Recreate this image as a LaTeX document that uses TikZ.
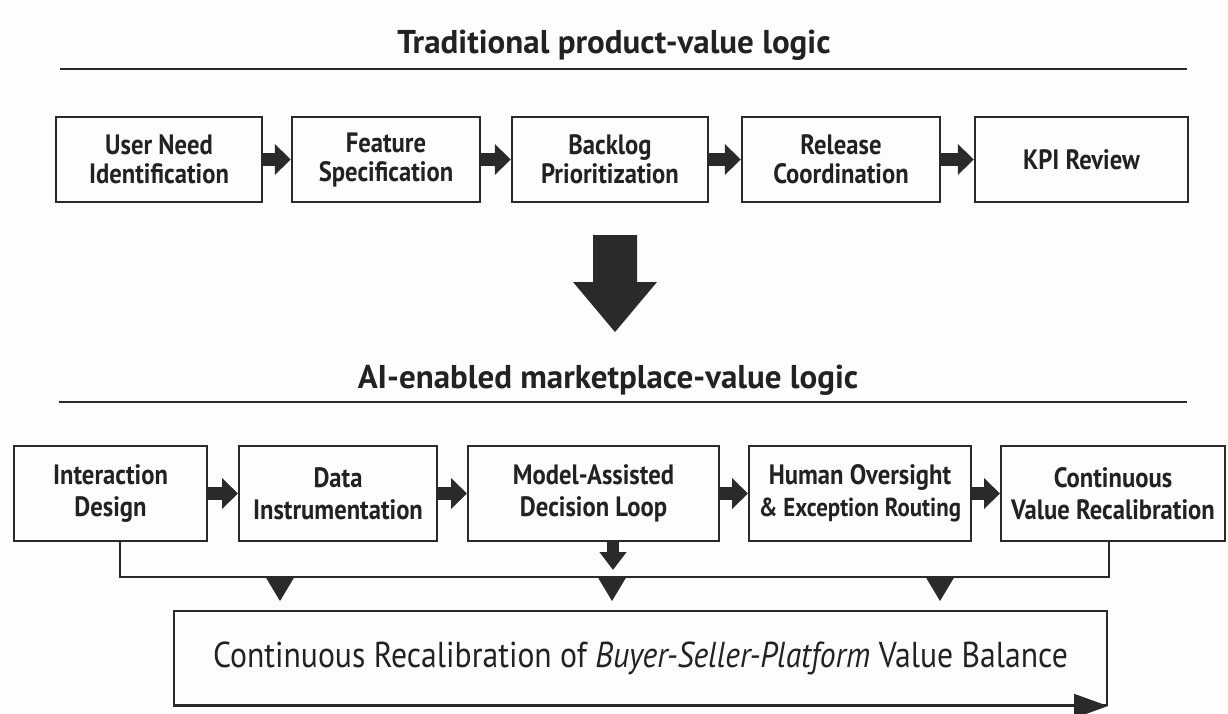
\documentclass[tikz,border=0pt]{standalone}
\usepackage{fontspec}
\setmainfont{PT Sans}
\newfontfamily\boxfont{PT Sans}[FakeStretch=0.88]
\newfontfamily\balfont{PT Sans}[FakeStretch=0.88]
\usepackage{tikz}
\usetikzlibrary{arrows.meta}
\definecolor{figline}{RGB}{42,42,42}
\definecolor{figtext}{RGB}{34,34,34}
\definecolor{figpanel}{RGB}{253,253,253}
\tikzset{
  ttl/.style  ={font=\fontsize{33}{33}\selectfont\bfseries, text=figtext, anchor=base, inner sep=0pt},
  rul/.style  ={draw=figline, line width=2.2pt},
  oldbox/.style ={draw=figline, line width=2.4pt, align=center, text=figtext,
                  font=\boxfont\fontsize{28}{29}\selectfont\bfseries, minimum height=85pt, inner sep=0pt},
  newbox/.style ={draw=figline, line width=2pt, align=center, text=figtext,
                  font=\boxfont\fontsize{28}{32}\selectfont\bfseries, minimum height=95pt, inner sep=0pt},
  flow/.style ={draw=figline, line width=13pt, -{Triangle[length=16pt,width=30pt]}},
  drop/.style ={draw=figline, line width=12pt, -{Triangle[length=18pt,width=26pt]}},
  bus/.style  ={draw=figline, line width=2.2pt},
  tri/.style  ={fill=figline},
}

\begin{document}
\begin{tikzpicture}[x=1pt,y=-1pt]
  \fill[figpanel] (0,0) rectangle (1228,713);
  \useasboundingbox (0,0) rectangle (1228,713);
  \node[ttl] (told) at (614,53) {Traditional product-value logic};
  \draw[rul] (60,69) -- (1187,69);
  \node[oldbox,minimum width=206pt] (t1) at (159,159.5) {User Need\\Identification};
  \node[oldbox,minimum width=188pt] (t2) at (386,159.5) {Feature\\Specification};
  \node[oldbox,minimum width=196pt] (t3) at (610,159.5) {Backlog\\Prioritization};
  \node[oldbox,minimum width=198pt] (t4) at (841,159.5) {Release\\Coordination};
  \node[oldbox,minimum width=213pt] (t5) at (1081.5,159.5) {KPI Review};
  \draw[flow] (t1) -- (t2);
  \draw[flow] (t2) -- (t3);
  \draw[flow] (t3) -- (t4);
  \draw[flow] (t4) -- (t5);
  \fill[figline] (593,235) -- (637,235) -- (637,282) -- (657,282) -- (615,332)
    -- (573,282) -- (593,282) -- cycle;
  \node[ttl] (tnew) at (608,388) {AI-enabled marketplace-value logic};
  \draw[rul] (59,402) -- (1187,402);
  \node[newbox,minimum width=193pt] (n1) at (110.5,493.5) {Interaction\\Design};
  \node[newbox,minimum width=198pt] (n2) at (338,493.5) {Data\\Instrumentation};
  \node[newbox,minimum width=251pt] (n3) at (593.5,493.5) {Model-Assisted\\Decision Loop};
  \node[newbox,minimum width=222pt] (n4) at (860,493.5)
    {Human Oversight\\{\fontsize{26}{32}\selectfont\& Exception Routing}};
  \node[newbox,minimum width=224pt] (n5) at (1113,493.5) {Continuous\\Value Recalibration};
  \draw[flow] (n1) -- (n2);
  \draw[flow] (n2) -- (n3);
  \draw[flow] (n3) -- (n4);
  \draw[flow] (n4) -- (n5);
  \coordinate (b1) at (120,577);
  \coordinate (b5) at (1109,577);
  \coordinate (m3) at (613,570);
  \draw[bus] (b1 |- n1.south) -- (b1) -- (b5) -- (b5 |- n5.south);
  \draw[drop] (m3 |- n3.south) -- (m3);
  \foreach \jx in {280,612,940}
    \fill[tri] (\jx-15,576) -- (\jx+15,576) -- (\jx,601) -- cycle;
  \node[draw=figline, line width=2pt, minimum width=933pt, minimum height=94pt, inner sep=0pt,
        text=figtext, font=\balfont\fontsize{36}{36}\selectfont] (bal) at (640.5,658)
        {\raisebox{-4pt}{Continuous Recalibration of \textit{Buyer-Seller-Platform} Value Balance}};
  \draw[draw=figline, line width=2pt, -{Triangle[length=34pt,width=24pt]}]
    (bal.south west) -- (bal.south east);
\end{tikzpicture}
\end{document}
